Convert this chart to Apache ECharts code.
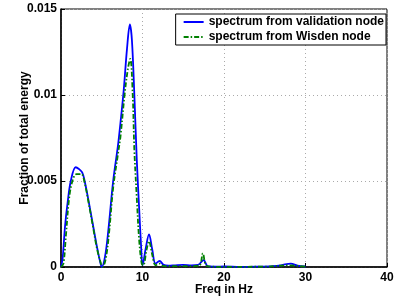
<!DOCTYPE html>
<html>
<head>
<meta charset="utf-8">
<script src="https://cdn.jsdelivr.net/npm/echarts@6/dist/echarts.min.js"></script>
<style>
  html, body { margin: 0; padding: 0; background: #fff; }
  #chart { width: 407px; height: 298px; }
</style>
</head>
<body>
<div id="chart"></div>
<script>
// spectrum from validation node
var validationFreq = [0, 0.2, 0.5, 0.8, 1.2, 1.8, 2.2, 2.6, 2.9, 3.4, 3.9, 4.4, 4.8, 5.0, 5.4, 5.8, 6.4, 7.0, 7.3, 7.7, 8.1, 8.45, 8.7, 9.0, 9.3, 9.6, 9.85, 10.0, 10.4, 10.8, 11.2, 11.6, 12.1, 12.6, 13.2, 14, 15, 16, 16.8, 17.5, 18, 19, 20, 22, 24, 26, 27, 28.2, 29, 30]
var validationVal = [0, 0.0005, 0.0024, 0.0037, 0.0050, 0.0058, 0.0057, 0.0055, 0.0050, 0.0038, 0.0025, 0.0012, 0.0003, 0, 0.0006, 0.0021, 0.0050, 0.0071, 0.0084, 0.0103, 0.0127, 0.0141, 0.0132, 0.0100, 0.0062, 0.0033, 0.0010, 0.0001, 0.0011, 0.0019, 0.0010, 0.0002, 0.00035, 0.00012, 0.00008, 0.0001, 0.00012, 0.0001, 0.00012, 0.0004, 0.00005, 0.00002, 0.00003, 0.00001, 0.00002, 0.00005, 0.0001, 0.0002, 0.00008, 0.00003]

// spectrum from Wisden node
var wisdenFreq = [0, 0.3, 0.6, 1.0, 1.4, 1.9, 2.5, 2.9, 3.4, 3.9, 4.4, 4.9, 5.1, 5.5, 5.9, 6.4, 7.0, 7.3, 7.8, 8.2, 8.5, 8.8, 9.0, 9.3, 9.6, 9.9, 10.1, 10.5, 10.8, 11.2, 11.6, 12.1, 12.6, 14, 16, 17.0, 17.4, 17.8, 18.5, 20, 25, 28, 30]
var wisdenVal = [0, 0.0002, 0.0018, 0.0040, 0.0050, 0.0054, 0.0054, 0.0049, 0.0037, 0.0024, 0.0011, 0.0002, 0, 0.0005, 0.0020, 0.0046, 0.0066, 0.0076, 0.0100, 0.0115, 0.0121, 0.0100, 0.0068, 0.0040, 0.0015, 0.0002, 0.0001, 0.0010, 0.0015, 0.0007, 0.0001, 0.0002, 0.00005, 0.00005, 0.00005, 0.0001, 0.0008, 0.0001, 0.00002, 0.00001, 0.00002, 0.0001, 0.00002]

var seriesNames = ['spectrum from validation node', 'spectrum from Wisden node']

function pairs (xs, ys) {
  return xs.map(function (x, i) { return [x, ys[i]] })
}

var myChart = echarts.init(document.getElementById('chart'))
var fontFamily = 'Liberation Sans, Arial, sans-serif'

var option = {
  animation: false,
  grid: {
    left: 61,
    right: 20,
    top: 9,
    bottom: 31,
    outerBoundsMode: 'none',
    containLabel: false,
    show: true,
    borderColor: '#000',
    borderWidth: 1
  },
  legend: {
    data: seriesNames,
    orient: 'vertical',
    right: 21,
    top: 14,
    itemWidth: 20,
    itemHeight: 10,
    itemGap: 3,
    padding: [2, 2, 2, 7],
    backgroundColor: '#fff',
    borderColor: '#000',
    borderWidth: 1,
    borderRadius: 0,
    itemStyle: { opacity: 0 },
    textStyle: { color: '#000', fontSize: 12, fontWeight: 'bold', fontFamily: fontFamily }
  },
  xAxis: {
    type: 'value',
    min: 0,
    max: 40,
    interval: 10,
    name: 'Freq in Hz',
    nameLocation: 'middle',
    nameGap: 17,
    nameMoveOverlap: false,
    nameTextStyle: { color: '#000', fontSize: 12, fontWeight: 'bold', fontFamily: fontFamily },
    axisLine: { lineStyle: { color: '#000', width: 1.5 } },
    axisTick: { inside: true, length: 4, lineStyle: { color: '#000' } },
    axisLabel: { color: '#000', fontSize: 12, fontWeight: 'bold', fontFamily: fontFamily, margin: 5 },
    splitLine: { show: true, lineStyle: { color: '#aaa', type: [1, 3] } }
  },
  yAxis: {
    type: 'value',
    min: 0,
    max: 0.015,
    interval: 0.005,
    name: 'Fraction of total energy',
    nameLocation: 'middle',
    nameGap: 30,
    nameMoveOverlap: false,
    nameTextStyle: { color: '#000', fontSize: 12, fontWeight: 'bold', fontFamily: fontFamily },
    axisLine: { show: true, lineStyle: { color: '#000', width: 1.5 } },
    axisTick: { show: true, inside: true, length: 4, lineStyle: { color: '#000' } },
    axisLabel: { color: '#000', fontSize: 12, fontWeight: 'bold', fontFamily: fontFamily, margin: 4 },
    splitLine: { show: true, lineStyle: { color: '#aaa', type: [1, 3] } }
  },
  series: [
    {
      name: seriesNames[0],
      type: 'line',
      data: pairs(validationFreq, validationVal),
      smooth: 0.35,
      showSymbol: false,
      symbol: 'none',
      color: '#0000ff',
      lineStyle: { color: '#0000ff', width: 1.8 }
    },
    {
      name: seriesNames[1],
      type: 'line',
      data: pairs(wisdenFreq, wisdenVal),
      smooth: 0.35,
      showSymbol: false,
      symbol: 'none',
      color: '#008000',
      lineStyle: { color: '#008000', width: 1.8, type: [5, 2, 1.5, 2] }
    }
  ]
}

myChart.setOption(option)
</script>
</body>
</html>
